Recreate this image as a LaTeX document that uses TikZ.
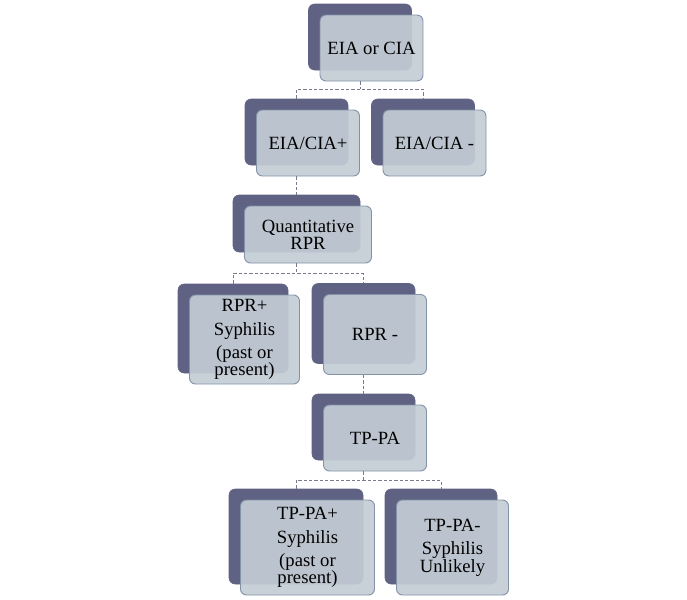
\documentclass[tikz,border=0pt]{standalone}
\usepackage{fontspec}
\setmainfont{Liberation Serif}
\usetikzlibrary{calc, positioning}
\definecolor{slateD}{HTML}{5F6282}
\definecolor{slateL}{HTML}{C3CDD5}
\definecolor{slateE}{HTML}{8392A8}
\definecolor{linkC}{HTML}{767C8E}
\tikzset{
    backBox/.style args={#1 #2}{
        draw=slateD, fill=slateD, rounded corners=4.5pt, inner sep=0pt,
        minimum width=#1*0.75pt, minimum height=#2*0.75pt
    },
    frontBox/.style args={#1 #2}{
        draw=slateE, line width=0.7pt, fill=slateL, fill opacity=0.92, text opacity=1,
        rounded corners=4.5pt, inner sep=0pt, align=center,
        font=\fontsize{14}{12.8}\selectfont,
        minimum width=#1*0.75pt, minimum height=#2*0.75pt
    },
    bareLink/.style={draw=linkC, dash pattern=on 2.5pt off 1.5pt, line width=0.75pt}
}
\begin{document}
\begin{tikzpicture}[x=0.75pt, y=-0.75pt]
    \useasboundingbox (0,0) rectangle (687,600);
    \def \dx {11.5}
    \def \dy {11}
    % back boxes
    \node[backBox={103 66}] (eiaB) at (360,37) {};
    \node[backBox={103 66}] (posB) at (296.5,132) {};
    \node[backBox={103 66}] (negB) at (423,132) {};
    \node[backBox={127 57}] (quantB) at (296.5,223.5) {};
    \node[backBox={110 89}] (rposB) at (233,328.5) {};
    \node[backBox={103 80}] (rnegB) at (363.5,323.5) {};
    \node[backBox={103 66}] (tpB) at (363.5,427) {};
    \node[backBox={134 95}] (tposB) at (296,536.5) {};
    \node[backBox={112 95}] (tnegB) at (441,536.5) {};
    % front boxes
    \node[frontBox={103 66}] (eia) at ([shift={(\dx,\dy)}]eiaB) {EIA or CIA};
    \node[frontBox={103 66}] (pos) at ([shift={(\dx,\dy)}]posB) {EIA/CIA+};
    \node[frontBox={103 66}] (neg) at ([shift={(\dx,\dy)}]negB) {EIA/CIA -};
    \node[frontBox={127 57}] (quant) at ([shift={(\dx,\dy)}]quantB) {Quantitative\\RPR};
    \node[frontBox={110 89}] (rpos) at ([shift={(\dx,\dy)}]rposB) {RPR+\\[5pt]Syphilis\\[5pt](past or\\present)};
    \node[frontBox={103 80}] (rneg) at ([shift={(\dx,\dy)}]rnegB) {RPR -};
    \node[frontBox={103 66}] (tp) at ([shift={(\dx,\dy)}]tpB) {TP-PA};
    \node[frontBox={134 95}] (tpos) at ([shift={(\dx,\dy)}]tposB) {TP-PA+\\[5pt]Syphilis\\[5pt](past or\\present)};
    \node[frontBox={112 95}] (tneg) at ([shift={(\dx,\dy)}]tnegB) {TP-PA-\\[5pt]Syphilis\\Unlikely};
    % links
    \coordinate (m1) at ($(eia.south)+(0,8)$);
    \draw[bareLink] (eiaB |- eia.south) -- (eiaB |- m1);
    \draw[bareLink] (posB.north) -- (posB |- m1) -- (negB |- m1) -- (negB.north);
    \draw[bareLink] (posB |- pos.south) -- (quantB.north);
    \coordinate (m2) at ($(quant.south)+(0,10)$);
    \draw[bareLink] (quantB |- quant.south) -- (quantB |- m2);
    \draw[bareLink] (rposB.north) -- (rposB |- m2) -- (rnegB |- m2) -- (rnegB.north);
    \draw[bareLink] (rnegB |- rneg.south) -- (tpB.north);
    \coordinate (m3) at ($(tp.south)+(0,9)$);
    \draw[bareLink] (tpB |- tp.south) -- (tpB |- m3);
    \draw[bareLink] (tposB.north) -- (tposB |- m3) -- (tnegB |- m3) -- (tnegB.north);
\end{tikzpicture}
\end{document}
